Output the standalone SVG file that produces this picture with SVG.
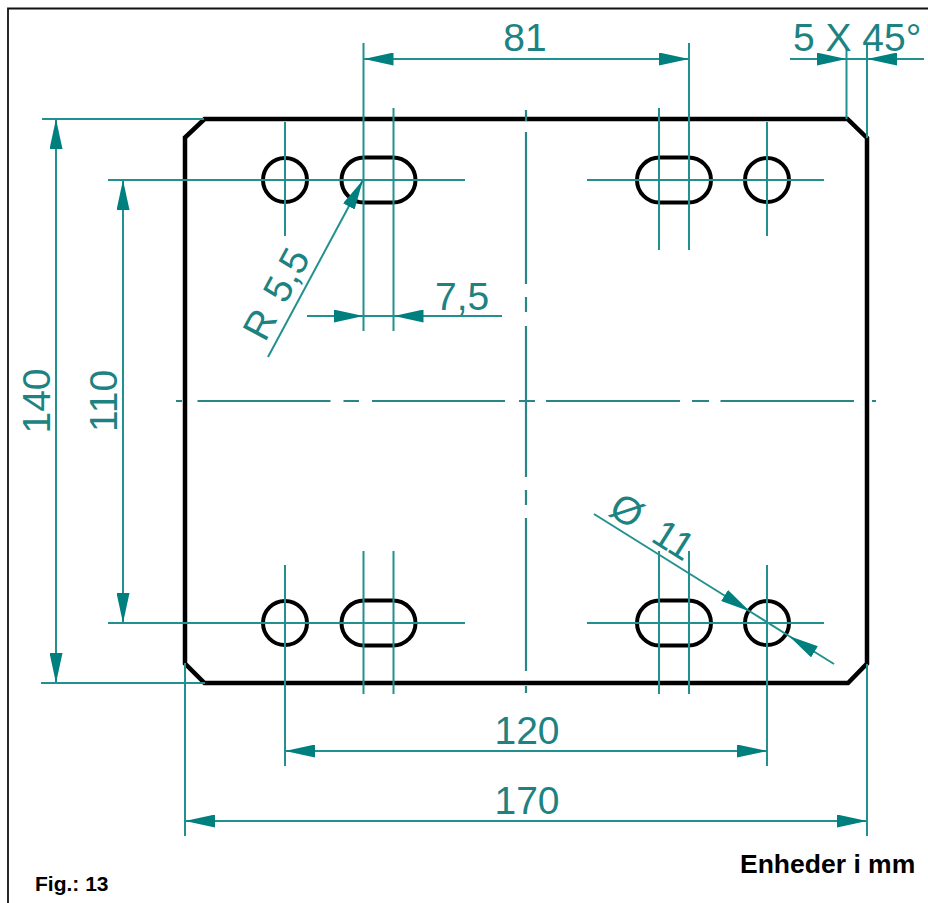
<svg xmlns="http://www.w3.org/2000/svg" width="928" height="903" viewBox="0 0 928 903">
<style>
.plate{fill:none;stroke:#000;stroke-width:4.5;stroke-linejoin:miter}
.hole{fill:none;stroke:#000;stroke-width:4}
.dim{fill:none;stroke:#239090;stroke-width:2}
.cl{fill:none;stroke:#2a8585;stroke-width:2.2}
.t{font-family:"Liberation Sans",Arial,sans-serif;font-size:39px;fill:#1d8282}
.b{font-family:"Liberation Sans",Arial,sans-serif;font-weight:bold;fill:#000}
</style>
<defs>
<marker id="ahe" viewBox="0 0 30 13" refX="30" refY="6.5" markerWidth="30" markerHeight="13" markerUnits="userSpaceOnUse" orient="auto">
<path d="M0 0L30 6.5L0 13z" fill="#007f7f"/>
</marker>
<marker id="ahs" viewBox="0 0 30 13" refX="0" refY="6.5" markerWidth="30" markerHeight="13" markerUnits="userSpaceOnUse" orient="auto">
<path d="M30 0L0 6.5L30 13z" fill="#007f7f"/>
</marker>
</defs>
<rect width="928" height="903" fill="#fff"/>
<path id="frame" d="M8 903V8.500H928" fill="none" stroke="#111" stroke-width="1.800"/>
<g id="plate"><path class="plate" d="M204.500 119H847.500L867 138V663.500L848 683H204.500L185 663.500V137.500z"/></g>
<g id="hole-tl"><circle class="hole" cx="285" cy="180" r="22"/></g>
<g id="slot-tl"><rect class="hole" x="341.500" y="157.500" width="74" height="45" rx="22.500"/></g>
<g id="slot-tr"><rect class="hole" x="637" y="157.500" width="74" height="45" rx="22.500"/></g>
<g id="hole-tr"><circle class="hole" cx="767" cy="180" r="22"/></g>
<g id="hole-bl"><circle class="hole" cx="285" cy="623" r="22"/></g>
<g id="slot-bl"><rect class="hole" x="341.500" y="600.500" width="74" height="45" rx="22.500"/></g>
<g id="slot-br"><rect class="hole" x="637" y="600.500" width="74" height="45" rx="22.500"/></g>
<g id="hole-br"><circle class="hole" cx="767" cy="623" r="22"/></g>
<g id="connectors">
<path class="dim" d="M108 180H465M587 180H824M108 623H465M587 623H824"/>
<path class="dim" d="M285 122V236M363.500 43V331M393.500 108V331M659 108V250M689 43V250M767 122V236"/>
<path class="dim" d="M285 565V766M363.500 551V694M393.500 551V694M659 551V694M689 551V694M767 565V766"/>
<path class="dim" d="M185 663V836M867 664V836M846.500 48V119M867 45V138"/>
<path class="dim" d="M42 119H204M41 683H205"/>
<path class="dim" style="marker-start:url(#ahs);marker-end:url(#ahe)" d="M363.500 59H689"/>
<path class="dim" style="marker-start:url(#ahs);marker-end:url(#ahe)" d="M285 751H767"/>
<path class="dim" style="marker-start:url(#ahs);marker-end:url(#ahe)" d="M185 821H867"/>
<path class="dim" style="marker-start:url(#ahs);marker-end:url(#ahe)" d="M56 119V683"/>
<path class="dim" style="marker-start:url(#ahs);marker-end:url(#ahe)" d="M123 180V623"/>
<path class="dim" style="marker-end:url(#ahe)" d="M790 59H846.500"/>
<path class="dim" style="marker-end:url(#ahe)" d="M924 59H867"/>
<path class="dim" d="M846.500 59H867"/>
<path class="dim" style="marker-end:url(#ahe)" d="M307 316H363.500"/>
<path class="dim" style="marker-end:url(#ahe)" d="M502 316H393.500"/>
<path class="dim" d="M363.500 316H393.500"/>
<path class="dim" style="marker-end:url(#ahe)" d="M268 357L363 180"/>
<path class="dim" style="marker-end:url(#ahe)" d="M594 514L750 611.500"/>
<path class="dim" style="marker-end:url(#ahe)" d="M834 664L789 636"/>
<path class="dim" d="M750 611.500L789 636"/>
<path class="cl" d="M176 401H182M197.500 401H330.500M343.500 401H359M372 401H505M519 401H535M546 401H680M692 401H709M720.500 401H854M872 401H876"/>
<path class="cl" d="M526 110V121M526 132V284M526 297V312M526 326V477M526 490V505M526 518V671M526 686V693"/>
</g>
<g id="labels">
<text class="t" x="525" y="51" text-anchor="middle">81</text>
<text class="t" x="793" y="51">5 X 45°</text>
<text class="t" x="435" y="310">7,5</text>
<text class="t" x="527" y="744" text-anchor="middle">120</text>
<text class="t" x="527" y="814" text-anchor="middle">170</text>
<text class="t" transform="translate(50 401) rotate(-90)" text-anchor="middle">140</text>
<text class="t" transform="translate(117 401) rotate(-90)" text-anchor="middle">110</text>
<text class="t" transform="translate(265 343) rotate(-61.800)" style="word-spacing:4px">R 5,5</text>
<text class="t" transform="translate(607 514) rotate(32)" style="word-spacing:9px">Ø 11</text>
<text class="b" x="35" y="891" font-size="21">Fig.: 13</text>
<text class="b" x="740" y="873" font-size="26.500">Enheder i mm</text>
</g>
</svg>
